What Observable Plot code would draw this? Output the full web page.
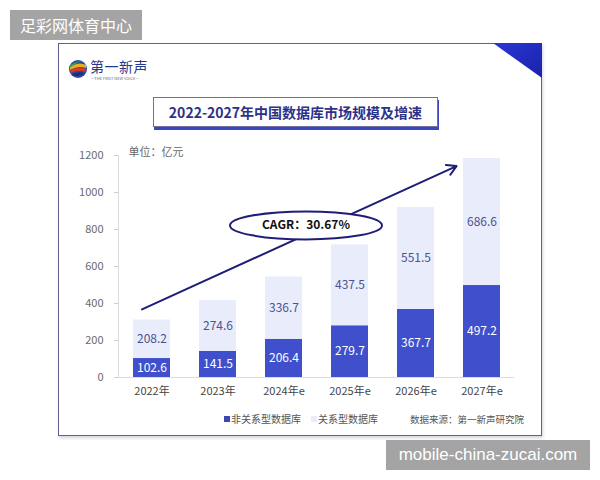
<!DOCTYPE html>
<html><head><meta charset="utf-8">
<script src="https://cdn.jsdelivr.net/npm/d3@7"></script>
<script src="https://cdn.jsdelivr.net/npm/@observablehq/plot@0.6"></script>
<style>
html,body{margin:0;padding:0;background:#fff;}
body{width:600px;height:480px;position:relative;overflow:hidden;font-family:"Noto Sans CJK SC","Noto Sans",sans-serif;}
.abs{position:absolute;}
#wm1{left:10px;top:10px;width:132px;height:30px;background:#a4a4a4;color:#fff;font-size:16px;line-height:30px;text-align:center;}
#wm2{left:386px;top:440px;width:204px;height:30px;background:#a4a4a4;color:#fff;font-size:17px;line-height:30px;text-align:center;font-family:"Liberation Sans","DejaVu Sans",sans-serif;}
#frame{left:58px;top:43px;width:484px;height:393px;border:1.5px solid #5f5f92;box-sizing:border-box;box-shadow:1px 2px 3px rgba(80,80,120,0.25);}
#corner{left:493px;top:43px;width:49px;height:35px;}
#title{left:153px;top:97px;width:285px;height:30px;border:1px solid #6e6ea2;box-sizing:border-box;box-shadow:1px 3px 0 #3c46bf;text-align:center;line-height:29px;font-size:14px;font-weight:bold;color:#2d3187;background:#fff;}
#logoText{left:90px;top:59px;font-size:14px;color:#24398c;line-height:15px;letter-spacing:0.5px;}
#logoSub{left:91px;top:76px;font-size:4px;color:#667;line-height:4px;white-space:nowrap;}
#chart{left:58px;top:140px;}
.leg{font-size:10px;color:#555;line-height:12px;white-space:nowrap;}
.sq{width:6px;height:6px;}
</style></head>
<body>
<div id="frame" class="abs"></div>
<svg id="corner" class="abs" viewBox="0 0 49 35"><defs><linearGradient id="g" x1="0" y1="0" x2="1" y2="1"><stop offset="0" stop-color="#2a36d8"/><stop offset="1" stop-color="#1b22a8"/></linearGradient></defs><polygon points="0,0 49,0 49,35" fill="url(#g)"/></svg>
<svg class="abs" style="left:67px;top:59px" width="22" height="20" viewBox="0 0 22 20">
<circle cx="11" cy="10" r="9" fill="#2a4a9a"/>
<path d="M3 8 Q11 2 19 6 L19 9 Q11 6 3 11Z" fill="#e6b020"/>
<path d="M3 11 Q11 7 19 10 L18 13 Q11 10 4 14Z" fill="#d83a2a"/>
<path d="M2.5 7 Q8 2 15 2.5 Q9 3 3 9Z" fill="#3aa84a"/>
<path d="M5 15 Q12 12 17 14 Q12 19 6 16Z" fill="#1f2f70"/>
</svg>
<div id="logoText" class="abs">第一新声</div>
<div id="logoSub" class="abs">—THE FIRST NEW VOICE—</div>
<div id="title" class="abs"></div>
<div id="chart" class="abs"></div>
<div id="legend"></div>
<div id="wm1" class="abs">足彩网体育中心</div>
<div id="wm2" class="abs">mobile-china-zucai.com</div>
<script>
// ---- data ----
const chartTitle = "2022-2027年中国数据库市场规模及增速";
const years = ["2022年", "2023年", "2024年e", "2025年e", "2026年e", "2027年e"];
const nonRelational = [102.6, 141.5, 206.4, 279.7, 367.7, 497.2];
const relational = [208.2, 274.6, 336.7, 437.5, 551.5, 686.6];
const seriesNames = ["非关系型数据库", "关系型数据库"];
const seriesColors = ["#4050cc", "#e9ecfb"];
const yTicks = [0, 200, 400, 600, 800, 1000, 1200];
const unitLabel = "单位：亿元";
const sourceLabel = "数据来源：第一新声研究院";
const cagrText = "CAGR：30.67%";
const cagrAnchorYear = "2024年e";
const cagrAnchorValue = 822;
const trendYears = ["2022年", "2027年e"];
const trendValues = [368, 1181];

// ---- table ----
const rows = years.flatMap((yr, i) => [
  {year: yr, type: seriesNames[0], value: nonRelational[i]},
  {year: yr, type: seriesNames[1], value: relational[i]}
]);
const trend = [{x1: trendYears[0], y1: trendValues[0], x2: trendYears[1], y2: trendValues[1]}];
const cagr = [{year: cagrAnchorYear, value: cagrAnchorValue, label: cagrText}];

document.getElementById("title").textContent = chartTitle;

const ellipseSymbol = {
  draw(ctx) {
    const rx = 76, ry = 14, k = 0.5523;
    ctx.moveTo(rx, 0);
    ctx.bezierCurveTo(rx, ry * k, rx * k, ry, 0, ry);
    ctx.bezierCurveTo(-rx * k, ry, -rx, ry * k, -rx, 0);
    ctx.bezierCurveTo(-rx, -ry * k, -rx * k, -ry, 0, -ry);
    ctx.bezierCurveTo(rx * k, -ry, rx, -ry * k, rx, 0);
    ctx.closePath();
  }
};

const font = '"Noto Sans CJK SC","Noto Sans",sans-serif';
const chart = Plot.plot({
  width: 484,
  height: 262,
  marginLeft: 60,
  marginRight: 28,
  marginTop: 15,
  marginBottom: 25,
  style: {fontFamily: font, background: "transparent", overflow: "visible"},
  x: {domain: years, paddingInner: 0.44, paddingOuter: 0.22, label: null},
  y: {domain: [0, 1200], label: null},
  color: {domain: seriesNames, range: seriesColors},
  marks: [
    Plot.barY(rows, {x: "year", y: "value", fill: "type"}),
    Plot.ruleY([0], {stroke: "#dcdcdc", strokeWidth: 1}),
    Plot.frame({anchor: "left", stroke: "#dcdcdc"}),
    Plot.axisY(yTicks, {tickSize: 4, tickPadding: 11, tickFormat: d => String(d), stroke: "#cfcfcf", fill: "#6a6a6a", fontSize: 11, label: null}),
    Plot.axisX({tickSize: 0, tickPadding: 10, fill: "#444", fontSize: 11, label: null}),
    Plot.text(rows, Plot.stackY({x: "year", y: "value", z: "type",
      text: d => d.type === seriesNames[0] ? d.value.toFixed(1) : "",
      fill: "#ffffff", fontSize: 12})),
    Plot.text(rows, Plot.stackY({x: "year", y: "value", z: "type",
      text: d => d.type === seriesNames[1] ? d.value.toFixed(1) : "",
      fill: "#4a5392", fontSize: 12})),
    Plot.text([unitLabel], {frameAnchor: "top-left", text: d => d, dx: 10, dy: -7, fill: "#666", fontSize: 11}),
    Plot.arrow(trend, {x1: "x1", y1: "y1", x2: "x2", y2: "y2", dx: -10, insetEnd: 17,
      stroke: "#201d78", strokeWidth: 2, headLength: 8}),
    Plot.dot(cagr, {x: "year", y: "value", dx: 22, symbol: ellipseSymbol, r: 10,
      fill: "#ffffff", stroke: "#201d78", strokeWidth: 2}),
    Plot.text(cagr, {x: "year", y: "value", dx: 22, text: "label", fontWeight: "bold", fontSize: 12, fill: "#111"})
  ]
});
document.getElementById("chart").appendChild(chart);

// ---- legend ----
const legend = document.getElementById("legend");
const legendItems = [
  {label: seriesNames[0], color: "#3c48b5", sx: 224, tx: 231},
  {label: seriesNames[1], color: seriesColors[1], sx: 311, tx: 318}
];
for (const it of legendItems) {
  const sq = document.createElement("div");
  sq.className = "abs sq";
  sq.style.cssText = `left:${it.sx}px;top:416px;background:${it.color};`;
  legend.appendChild(sq);
  const t = document.createElement("div");
  t.className = "abs leg";
  t.style.cssText = `left:${it.tx}px;top:413px;`;
  t.textContent = it.label;
  legend.appendChild(t);
}
const src = document.createElement("div");
src.className = "abs leg";
src.style.cssText = "left:410px;top:413px;font-size:9.5px;";
src.textContent = sourceLabel;
legend.appendChild(src);
</script>
</body></html>
